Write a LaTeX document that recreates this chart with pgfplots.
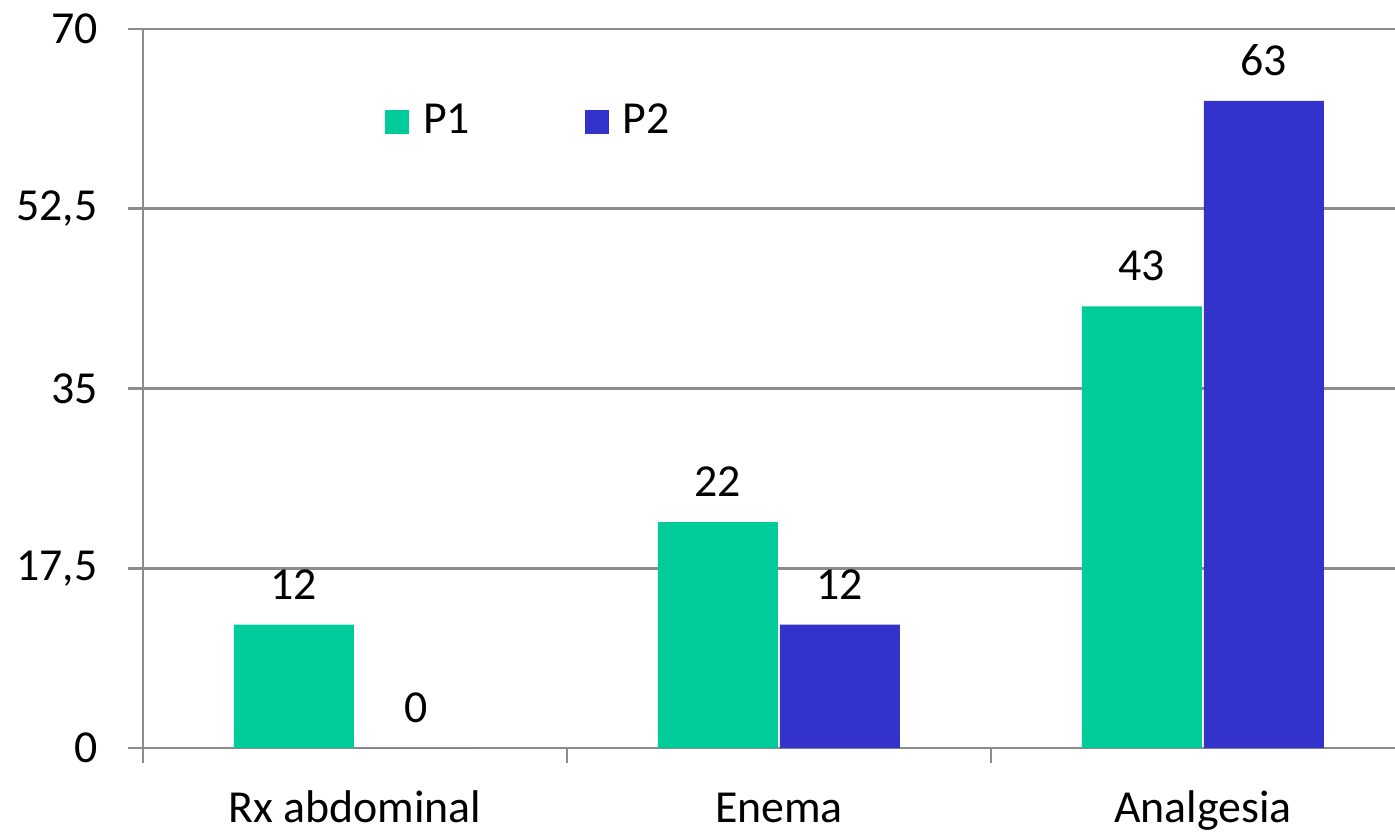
\documentclass[border=0pt]{standalone}
\usepackage{fontspec}
\setmainfont{Carlito}
\usepackage{pgfplots}
\pgfplotsset{compat=1.18}
\definecolor{pone}{HTML}{00CC99}
\definecolor{ptwo}{HTML}{3333CC}
\definecolor{gridgray}{HTML}{8C8C8C}
\newcommand{\chartfont}{\fontsize{23}{28}\selectfont}
\begin{document}
\begin{tikzpicture}
\begin{axis}[
  scale only axis,
  width=626bp, height=359.5bp,
  xmin=0, xmax=2.953, ymin=0, ymax=70,
  axis x line=bottom, axis y line=left,
  axis line style={-, draw=gridgray, line width=1.4bp},
  /pgf/number format/assume math mode=true,
  ytick={0,17.5,35,52.5,70},
  yticklabels={0,{17,5},35,{52,5},70},
  xtick={0,1,2},
  xticklabels={},
  extra x ticks={0.5,1.5,2.5},
  extra x tick labels={Rx abdominal,Enema,Analgesia},
  extra x tick style={tick style={draw=none}, xticklabel style={anchor=base, yshift=-29.5bp}},
  tick align=outside,
  major tick length=7.5bp,
  tick style={draw=gridgray, line width=1.4bp},
  ymajorgrids,
  major grid style={draw=gridgray, line width=1.4bp},
  every tick label/.append style={font=\chartfont, inner sep=0pt},
  yticklabel style={anchor=east, xshift=-15bp},
  ybar=1bp, bar width=60bp,
  nodes near coords,
  every node near coord/.append style={font=\chartfont, anchor=south, inner sep=0pt, yshift=12.5bp, text=black},
  legend style={draw=none, fill=none, inner sep=0pt, outer sep=0pt,
    font=\chartfont, nodes={inner sep=0pt},
    legend columns=2,
    /tikz/every odd column/.append style={column sep=7bp},
    /tikz/every even column/.append style={column sep=57.5bp},
    at={(rel axis cs:0.1933,0.8734)}, anchor=west},
  legend image code/.code={\fill[#1] (0bp,-7.2bp) rectangle (12bp,4.8bp);},
  clip=false,
]
\coordinate (O) at (rel axis cs:0,0);
\addplot[fill=pone, draw=none] coordinates {(0.5,12) (1.5,22) (2.5,43)};
\addplot[fill=ptwo, draw=none] coordinates {(0.5,0) (1.5,12) (2.5,63)};
\legend{P1,P2}
\end{axis}
\pgfresetboundingbox
\path ([shift={(-71.5bp,-42.5bp)}]O) rectangle ([shift={(626bp,374bp)}]O);
\end{tikzpicture}
\end{document}
